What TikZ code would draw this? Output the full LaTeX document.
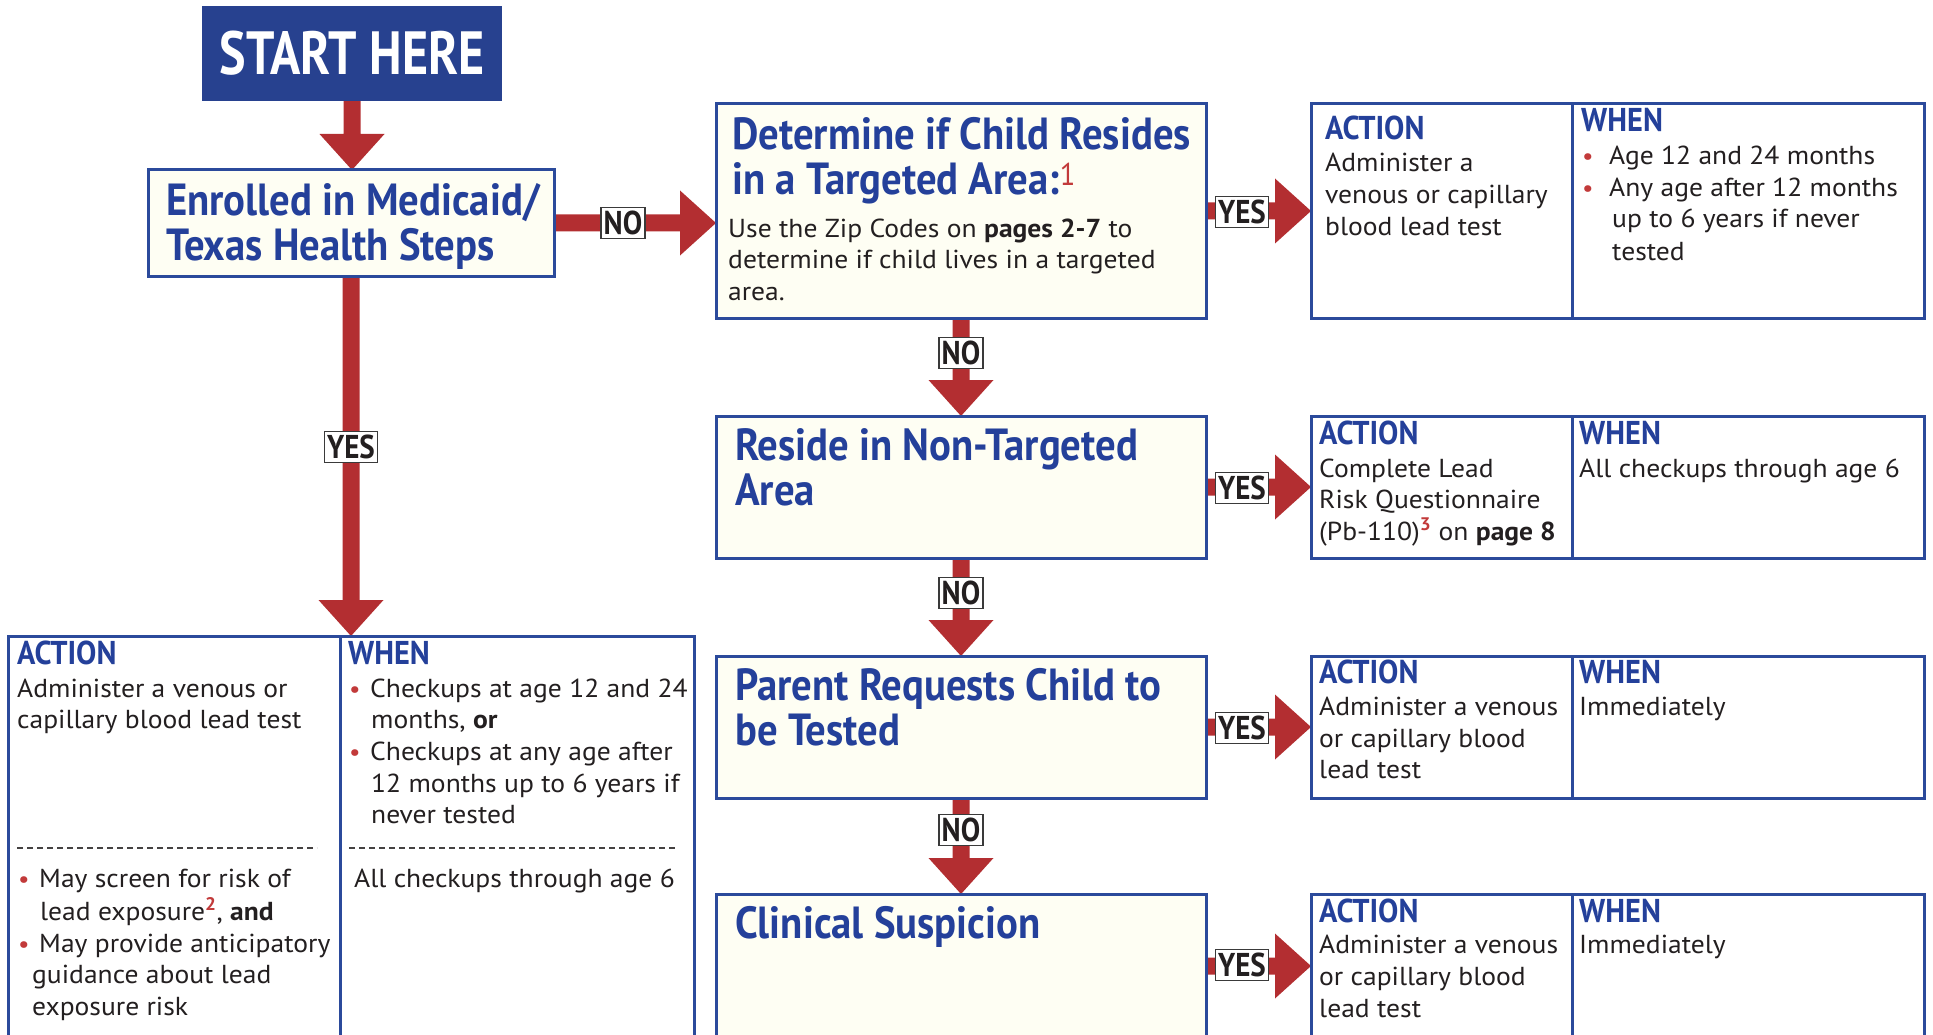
\documentclass[tikz,border=0pt]{standalone}
\usepackage{fontspec}
\setmainfont{PT Sans}[FakeStretch=1.06]
\newfontfamily\condfont{PT Sans}[FakeStretch=0.905]
\newfontfamily\startfont{PT Sans}[FakeStretch=0.82]
\newfontfamily\headfont{PT Sans}[FakeStretch=0.92]
\newfontfamily\labfont{PT Sans}[FakeStretch=0.88]
\usetikzlibrary{calc,backgrounds}
\definecolor{startblue}{HTML}{27418F}
\definecolor{tblue}{HTML}{24409A}
\definecolor{bblue}{HTML}{2B4A9B}
\definecolor{arrred}{HTML}{B32E31}
\definecolor{ivory}{HTML}{FEFEF3}
\definecolor{ink}{HTML}{231F20}
\definecolor{dotred}{HTML}{C23A3A}
\definecolor{labgray}{HTML}{3A3A3A}
\tikzset{
  startbox/.style={fill=startblue, text=white, inner sep=0pt, outer sep=0pt, anchor=north west,
     font=\startfont\bfseries\fontsize{61}{61}\selectfont},
  condbox/.style={draw=bblue, line width=3pt, fill=ivory, inner sep=0pt, outer sep=0pt, anchor=north west},
  actbox/.style={draw=bblue, line width=3pt, fill=white, inner sep=0pt, outer sep=0pt, anchor=north west},
  divider/.style={draw=bblue, line width=3pt},
  ttl/.style={anchor=base west, inner sep=0pt, text=tblue, font=\condfont\bfseries\fontsize{45}{45}\selectfont},
  hd/.style={anchor=base west, inner sep=0pt, text=tblue, font=\headfont\bfseries\fontsize{33}{33}\selectfont},
  bt/.style={anchor=base west, inner sep=0pt, text=ink, font=\fontsize{26}{31}\selectfont},
  bul/.style={anchor=base west, inner sep=0pt, text=dotred, font=\fontsize{24}{31}\selectfont},
  lab/.style={draw=labgray, line width=1.5pt, fill=white, text=ink, inner xsep=2.5pt, inner ysep=0pt,
     minimum height=31pt, font=\labfont\bfseries\fontsize{33}{33}\selectfont},
  dashline/.style={draw=ink!85, line width=1.4pt, dash pattern=on 6pt off 4pt},
  arrowfill/.style={fill=arrred}
}
\newcommand\sred[1]{\textsuperscript{\textcolor{dotred}{#1}}}
% vertical arrow: from node #1 (south) to node #2 (north)
\newcommand\varr[2]{%
  \path (#1.south |- #2.north) coordinate (vtip);
  \fill[arrowfill] ($(#1.south)+(-8.5,0)$) -- ($(vtip)+(-8.5,-36)$) -- ($(vtip)+(-32.5,-36)$)
    -- (vtip) -- ($(vtip)+(32.5,-36)$) -- ($(vtip)+(8.5,-36)$) -- ($(#1.south)+(8.5,0)$) -- cycle;}
% horizontal arrow: from node #1 (east) to node #2 (west)
\newcommand\harr[2]{%
  \path (#2.west |- #1.east) coordinate (htip);
  \fill[arrowfill] ($(#1.east)+(0,-8.5)$) -- ($(htip)+(-36,-8.5)$) -- ($(htip)+(-36,-32.5)$)
    -- (htip) -- ($(htip)+(-36,32.5)$) -- ($(htip)+(-36,8.5)$) -- ($(#1.east)+(0,8.5)$) -- cycle;}
\begin{document}
\begin{tikzpicture}[x=1pt,y=-1pt]
\useasboundingbox (0,0) rectangle (1933,1035);
\clip (0,0) rectangle (1933,1035);

% ---------- boxes ----------
\node[startbox, minimum width=300pt, minimum height=95pt] (start) at (202,6) {START HERE};
\node[condbox, minimum width=406pt, minimum height=106pt] (enr) at (148,170) {};
\node[condbox, minimum width=490pt, minimum height=214pt] (det) at (716,104) {};
\node[condbox, minimum width=490pt, minimum height=142pt] (res) at (716,416) {};
\node[condbox, minimum width=490pt, minimum height=142pt] (par) at (716,656) {};
\node[condbox, minimum width=490pt, minimum height=144pt] (cli) at (716,894) {};
\node[actbox, minimum width=613pt, minimum height=214pt] (act1) at (1311,104) {};
\node[actbox, minimum width=613pt, minimum height=142pt] (act2) at (1311,416) {};
\node[actbox, minimum width=613pt, minimum height=142pt] (act3) at (1311,656) {};
\node[actbox, minimum width=613pt, minimum height=144pt] (act4) at (1311,894) {};
\node[actbox, minimum width=686pt, minimum height=402pt] (bl) at (8,636) {};

\foreach \b in {act1,act2,act3,act4}{
  \draw[divider] ($(\b.north west)+(261,0)$) -- ($(\b.south west)+(261,0)$);
}
\draw[divider] ($(bl.north west)+(332,0)$) -- ($(bl.south west)+(332,0)$);

% ---------- connectors ----------
\begin{pgfonlayer}{background}
\varr{start}{enr}
\harr{enr}{det}
\varr{enr}{bl}
\harr{det}{act1}
\varr{det}{res}
\harr{res}{act2}
\varr{res}{par}
\harr{par}{act3}
\varr{par}{cli}
\harr{cli}{act4}
\end{pgfonlayer}

% ---------- labels ----------
\node[lab] (l1) at ($(enr.east)+(69,0)$) {NO};
\node[lab] (l2) at ($(enr.south)+(0,171)$) {YES};
\node[lab] (l3) at ($(det.east)+(36,1)$) {YES};
\node[lab] (l4) at ($(det.south)+(0,35)$) {NO};
\node[lab] (l5) at ($(res.east)+(36,1)$) {YES};
\node[lab] (l6) at ($(res.south)+(0,35)$) {NO};
\node[lab] (l7) at ($(par.east)+(36,1)$) {YES};
\node[lab] (l8) at ($(par.south)+(0,32)$) {NO};
\node[lab] (l9) at ($(cli.east)+(36,-1)$) {YES};

% ---------- condition texts ----------
\node[ttl] (enr1) at (166,215) {Enrolled in Medicaid/};
\node[ttl] (enr2) at (166,260) {Texas Health Steps};

\node[ttl] (det1) at (732,150) {Determine if Child Resides};
\node[ttl] (det2) at (732,195) {in a Targeted Area:\sred{\mdseries 1}};
\node[bt] (det3) at (728,237) {Use the Zip Codes on \textbf{pages 2-7} to};
\node[bt] (det4) at (728,268) {determine if child lives in a targeted};
\node[bt] (det5) at (728,300) {area.};

\node[ttl] (res1) at (735,460) {Reside in Non-Targeted};
\node[ttl] (res2) at (735,505) {Area};

\node[ttl] (par1) at (735,700) {Parent Requests Child to};
\node[ttl] (par2) at (735,745) {be Tested};

\node[ttl] (cli1) at (735,938) {Clinical Suspicion};

% ---------- action box 1 ----------
\node[hd] (a1h) at (1325,140) {ACTION};
\node[bt] (a1t1) at (1325,172) {Administer a};
\node[bt] (a1t2) at (1325,204) {venous or capillary};
\node[bt] (a1t3) at (1325,236) {blood lead test};
\node[hd] (w1h) at (1581,132) {WHEN};
\node[bul] (w1b1) at (1582,165) {•};
\node[bt] (w1t1) at (1609,165) {Age 12 and 24 months};
\node[bul] (w1b2) at (1582,197) {•};
\node[bt] (w1t2) at (1609,197) {Any age after 12 months};
\node[bt] (w1t3) at (1612,228) {up to 6 years if never};
\node[bt] (w1t4) at (1612,260) {tested};

% ---------- action box 2 ----------
\node[hd] (a2h) at (1319,444) {ACTION};
\node[bt] (a2t1) at (1319,477) {Complete Lead};
\node[bt] (a2t2) at (1319,508) {Risk Questionnaire};
\node[bt] (a2t3) at (1319,540) {(Pb-110)\sred{\bfseries 3} on \textbf{page 8}};
\node[hd] (w2h) at (1579,444) {WHEN};
\node[bt] (w2t1) at (1579,477) {All checkups through age 6};

% ---------- action box 3 ----------
\node[hd] (a3h) at (1319,683) {ACTION};
\node[bt] (a3t1) at (1319,715) {Administer a venous};
\node[bt] (a3t2) at (1319,747) {or capillary blood};
\node[bt] (a3t3) at (1319,778) {lead test};
\node[hd] (w3h) at (1579,683) {WHEN};
\node[bt] (w3t1) at (1579,715) {Immediately};

% ---------- action box 4 ----------
\node[hd] (a4h) at (1319,922) {ACTION};
\node[bt] (a4t1) at (1319,953) {Administer a venous};
\node[bt] (a4t2) at (1319,985) {or capillary blood};
\node[bt] (a4t3) at (1319,1017) {lead test};
\node[hd] (w4h) at (1579,922) {WHEN};
\node[bt] (w4t1) at (1579,953) {Immediately};

% ---------- bottom-left box ----------
\node[hd] (blah) at (17,664) {ACTION};
\node[bt] (blat1) at (17,697) {Administer a venous or};
\node[bt] (blat2) at (17,728) {capillary blood lead test};
\node[hd] (blwh) at (348,664) {WHEN};
\node[bul] (blwb1) at (349,697) {•};
\node[bt] (blwt1) at (370,697) {Checkups at age 12 and 24};
\node[bt] (blwt2) at (371,728) {months, \textbf{or}};
\node[bul] (blwb2) at (349,760) {•};
\node[bt] (blwt3) at (370,760) {Checkups at any age after};
\node[bt] (blwt4) at (371,792) {12 months up to 6 years if};
\node[bt] (blwt5) at (371,823) {never tested};

\coordinate (dl1a) at (17,848); \coordinate (dl1b) at (317,848);
\coordinate (dl2a) at (349,848); \coordinate (dl2b) at (677,848);
\draw[dashline] (dl1a) -- (dl1b);
\draw[dashline] (dl2a) -- (dl2b);

\node[bul] (blab1) at (18,887) {•};
\node[bt] (blat3) at (39,887) {May screen for risk of};
\node[bt] (blat4) at (40,920) {lead exposure\sred{\bfseries 2}, \textbf{and}};
\node[bul] (blab2) at (18,952) {•};
\node[bt] (blat5) at (39,952) {May provide anticipatory};
\node[bt] (blat6) at (32,983) {guidance about lead};
\node[bt] (blat7) at (32,1015) {exposure risk};
\node[bt] (blwt6) at (354,887) {All checkups through age 6};
\end{tikzpicture}
\end{document}
